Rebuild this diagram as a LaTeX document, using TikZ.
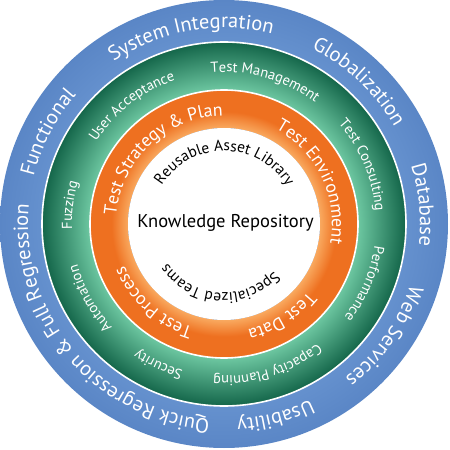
\documentclass[tikz,border=0pt]{standalone}
\usepackage{fontspec}
\setmainfont{PT Sans}
\usetikzlibrary{decorations.text}

\definecolor{ringblue}{HTML}{5A86C6}
\definecolor{ringbluelight}{HTML}{6591CE}
\definecolor{greendark}{HTML}{14664A}
\definecolor{greenlight}{HTML}{6DC7A1}
\definecolor{orangedark}{HTML}{EE7020}
\definecolor{orangelight}{HTML}{F9A95F}

\pgfdeclareradialshading{bluering}{\pgfpoint{0bp}{0bp}}{color(0bp)=(ringbluelight); color(20.3bp)=(ringbluelight); color(25bp)=(ringblue); color(50bp)=(ringblue)}
\pgfdeclareradialshading{greenring}{\pgfpoint{0bp}{0bp}}{color(0bp)=(greenlight); color(18.4bp)=(greenlight); color(25bp)=(greendark); color(50bp)=(greendark)}
\pgfdeclareradialshading{orangering}{\pgfpoint{0bp}{0bp}}{color(0bp)=(orangelight); color(17.9bp)=(orangelight); color(21bp)=(orangedark); color(50bp)=(orangedark)}

\newcommand\outerfont{\fontsize{20.5}{24}\selectfont}
\newcommand\midfont{\fontsize{14.5}{17}\selectfont}
\newcommand\orangefont{\fontsize{18}{22}\selectfont}
\newcommand\corefont{\fontsize{15.5}{18}\selectfont}

\begin{document}
\begin{tikzpicture}[
    outer label/.style={decorate, decoration={text along path, text align=center, text color=white, text={|\outerfont|#1}}},
    mid label/.style={decorate, decoration={text along path, text align=center, text color=white, text={|\midfont|#1}}},
    orange label/.style={decorate, decoration={text along path, text align=center, text color=white, text={|\orangefont|#1}}},
    core label/.style={decorate, decoration={text along path, text align=center, text color=black, text={|\corefont|#1}}},
    gap/.style={draw=white, line width=1.6pt}]
    \useasboundingbox (-224pt,-226pt) rectangle (226pt,224pt);

    % rings
    \shade[shading=bluering] (0,0) circle (224pt);
    \shade[shading=greenring, even odd rule] (0,0) circle (182pt) circle (134pt);
    \shade[shading=orangering, even odd rule] (0,0) circle (134pt) circle (96pt);
    \fill[white] (0,0) circle (96pt);
    \path[gap] (0,0) circle (182pt);
    \path[gap] (0,0) circle (134pt);

    % outer ring
    \path[outer label={System Integration}] (170:196pt) arc[start angle=170, end angle=30, radius=196pt];
    \path[outer label={Globalization}] (116.5:196pt) arc[start angle=116.5, end angle=-23.5, radius=196pt];
    \path[outer label={Database}] (75.5:196pt) arc[start angle=75.5, end angle=-64.5, radius=196pt];
    \path[outer label={Web Services}] (35:196pt) arc[start angle=35, end angle=-105, radius=196pt];
    \path[outer label={Usability}] (-5:196pt) arc[start angle=-5, end angle=-145, radius=196pt];
    \path[outer label={Quick Regression {\&} Full Regression}] (-50:196pt) arc[start angle=-50, end angle=-230, radius=196pt];
    \path[outer label={Functional}] (222.5:196pt) arc[start angle=222.5, end angle=82.5, radius=196pt];

    % middle ring
    \path[mid label={User Acceptance}] (198:152pt) arc[start angle=198, end angle=58, radius=152pt];
    \path[mid label={Test Management}] (144:152pt) arc[start angle=144, end angle=4, radius=152pt];
    \path[mid label={Test Consulting}] (93:152pt) arc[start angle=93, end angle=-47, radius=152pt];
    \path[mid label={Performance}] (47:152pt) arc[start angle=47, end angle=-93, radius=152pt];
    \path[mid label={Capacity Planning}] (-3:152pt) arc[start angle=-3, end angle=-143, radius=152pt];
    \path[mid label={Security}] (-45:152pt) arc[start angle=-45, end angle=-185, radius=152pt];
    \path[mid label={Automation}] (-81:152pt) arc[start angle=-81, end angle=-221, radius=152pt];
    \path[mid label={Fuzzing}] (243:152pt) arc[start angle=243, end angle=103, radius=152pt];

    % orange ring
    \path[orange label={Test Strategy {\&} Plan}] (223:108pt) arc[start angle=223, end angle=43, radius=108pt];
    \path[orange label={Test Environment}] (115.5:108pt) arc[start angle=115.5, end angle=-64.5, radius=108pt];
    \path[orange label={Test Data}] (32:108pt) arc[start angle=32, end angle=-148, radius=108pt];
    \path[orange label={Test Process}] (-42:108pt) arc[start angle=-42, end angle=-222, radius=108pt];

    % core
    \path[core label={Reusable Asset Library}] (179.5:73pt) arc[start angle=179.5, end angle=-0.5, radius=73pt];
    \path[core label={Specialized Teams}] (-4:69pt) arc[start angle=-4, end angle=-184, radius=69pt];
    \node (repo) at (1.5pt,1pt) {\fontsize{18.5}{22}\selectfont Knowledge Repository};
\end{tikzpicture}
\end{document}
